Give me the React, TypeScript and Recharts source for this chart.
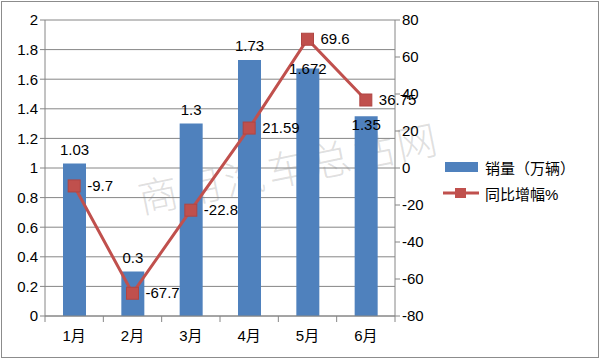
import React from 'react';
import { ComposedChart, Bar, Line, XAxis, YAxis, CartesianGrid, LabelList } from 'recharts';

const months = ['1月', '2月', '3月', '4月', '5月', '6月'];
const sales = [1.03, 0.3, 1.3, 1.73, 1.672, 1.35];
const growth = [-9.7, -67.7, -22.8, 21.59, 69.6, 36.75];
const leftTicks = [0, 0.2, 0.4, 0.6, 0.8, 1, 1.2, 1.4, 1.6, 1.8, 2];
const rightTicks = [-80, -60, -40, -20, 0, 20, 40, 60, 80];

const data = months.map((m, i) => ({ month: m, sales: sales[i], growth: growth[i] }));

const FONT = '"Liberation Sans", "Noto Sans CJK SC", sans-serif';
const BLUE = '#4F81BD';
const RED = '#C0504D';
const AXIS = '#868686';
const BAND = (395 - 45) / months.length;

const MonthTick: React.FC<any> = ({ x, y, payload, index }) => (
  <g>
    <line x1={x - BAND / 2} y1={y - 8} x2={x - BAND / 2} y2={y - 2} stroke={AXIS} />
    {index === months.length - 1 && (
      <line x1={x + BAND / 2} y1={y - 8} x2={x + BAND / 2} y2={y - 2} stroke={AXIS} />
    )}
    <text x={x} y={y + 17} textAnchor="middle" fontSize={15} fill="#000" fontFamily={FONT}>
      {payload.value}
    </text>
  </g>
);

const SquareDot: React.FC<any> = ({ cx, cy }) => (
  <rect x={cx - 6} y={cy - 6} width={12} height={12} fill={RED} stroke="#B04542" strokeWidth={1} />
);

const GrowthLabel: React.FC<any> = ({ x, y, value }) => (
  <text x={x + 13} y={y + 5} fontSize={15} fill="#000" fontFamily={FONT}>
    {value}
  </text>
);

// Excel nudged the last two bar labels down where they would hit the line labels
const SalesLabel: React.FC<any> = ({ x, y, width, value, index }) => {
  const dy = index === 4 ? 5 : index === 5 ? 14 : -9;
  return (
    <text x={x + width / 2} y={y + dy} textAnchor="middle" fontSize={15} fill="#000" fontFamily={FONT}>
      {value}
    </text>
  );
};

const LegendBox: React.FC = () => (
  <div style={{ position: 'absolute', left: 445, top: 154, fontFamily: FONT, fontSize: 15, color: '#000' }}>
    <div style={{ display: 'flex', alignItems: 'center', height: 26 }}>
      <div style={{ width: 33, height: 10, background: BLUE, marginRight: 7 }} />
      <span>销量（万辆）</span>
    </div>
    <div style={{ display: 'flex', alignItems: 'center', height: 26, marginLeft: -2 }}>
      <svg width={36} height={12} style={{ marginRight: 6 }}>
        <line x1={0} y1={6} x2={36} y2={6} stroke={RED} strokeWidth={3} />
        <rect x={12} y={1} width={11} height={10} fill={RED} />
      </svg>
      <span>同比增幅%</span>
    </div>
  </div>
);

export default function App() {
  return (
    <div style={{ position: 'absolute', left: 0, top: 0, width: 600, height: 360, background: '#fff' }}>
      <div
        style={{
          position: 'absolute', left: 1, top: 1, width: 596, height: 355,
          border: '1px solid #8c8c8c',
        }}
      />
      <div
        style={{
          position: 'absolute', left: 138, top: 177, fontSize: 40, color: 'rgba(90,90,90,0.2)',
          fontFamily: '"Noto Sans CJK SC", serif', fontWeight: 300, transform: 'rotate(-11.5deg)',
          transformOrigin: 'left center', whiteSpace: 'nowrap', letterSpacing: 4, lineHeight: 1,
        }}
      >
        商用汽车总站网
      </div>
      <ComposedChart
        width={600}
        height={360}
        data={data}
        margin={{ top: 20, right: 160, left: 0, bottom: 14 }}
        style={{ position: 'absolute', left: 0, top: 0 }}
      >
        <CartesianGrid vertical={false} stroke={AXIS} yAxisId="left" />
        <XAxis
          dataKey="month"
          stroke={AXIS}
          tickLine={false}
          tick={<MonthTick />}
          height={30}
          interval={0}
        />
        <YAxis
          yAxisId="left"
          domain={[0, 2]}
          ticks={leftTicks}
          width={45}
          stroke={AXIS}
          tickSize={5}
          tick={{ fill: '#000', fontSize: 15, fontFamily: FONT }}
        />
        <YAxis
          yAxisId="right"
          orientation="right"
          domain={[-80, 80]}
          ticks={rightTicks}
          width={45}
          stroke={AXIS}
          tickSize={5}
          tick={{ fill: '#000', fontSize: 15, fontFamily: FONT }}
        />
        <Bar yAxisId="left" dataKey="sales" fill={BLUE} barSize={23} isAnimationActive={false}>
          <LabelList dataKey="sales" content={<SalesLabel />} />
        </Bar>
        <Line
          yAxisId="right"
          dataKey="growth"
          stroke={RED}
          strokeWidth={3}
          dot={<SquareDot />}
          isAnimationActive={false}
        >
          <LabelList dataKey="growth" content={<GrowthLabel />} />
        </Line>
      </ComposedChart>
      <LegendBox />
    </div>
  );
}
